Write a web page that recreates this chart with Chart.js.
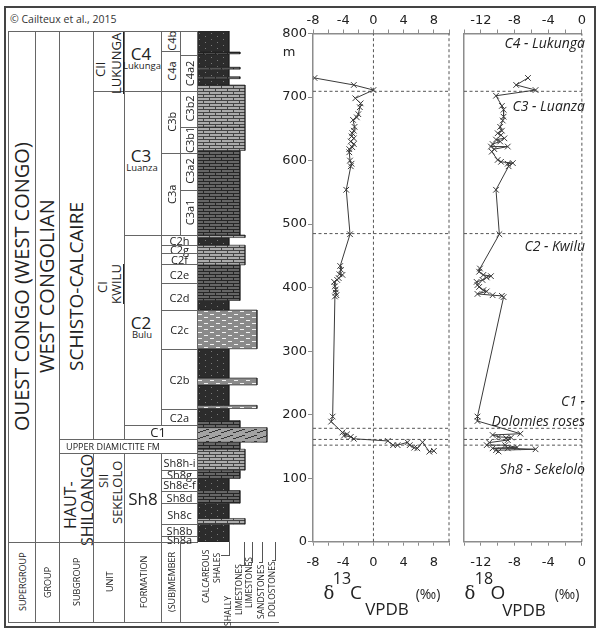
<!DOCTYPE html>
<html>
<head>
<meta charset="utf-8">
<script src="https://cdn.jsdelivr.net/npm/chart.js@4.4.1/dist/chart.umd.min.js"></script>
<style>
html, body { margin: 0; padding: 0; background: #fff; }
body { width: 601px; height: 634px; position: relative; overflow: hidden; font-family: "Open Sans", sans-serif; color: #222; }
canvas { position: absolute; }
.t { position: absolute; white-space: nowrap; line-height: 1; transform: translate(-50%, -50%); }
.vb { position: absolute; display: flex; align-items: center; justify-content: center; writing-mode: vertical-rl; transform: rotate(180deg); white-space: nowrap; line-height: 1; }
.cell { position: absolute; box-sizing: border-box; border: 1px solid #666; }
.lbl { position: absolute; right: 16px; font-style: italic; font-size: 14px; white-space: nowrap; line-height: 1; transform: translateY(-50%); }
.ln { position: absolute; background: #555; }
</style>
</head>
<body>
<div style="position:absolute;left:4px;top:6px;width:592px;height:622px;border:2px solid #444;box-sizing:border-box"></div>
<div class="t" style="left:10px;top:19px;transform:translateY(-50%);font-size:10.5px;color:#333">© Cailteux et al., 2015</div>

<canvas id="litho" width="80" height="511" style="left:197px;top:31px;width:80px;height:511px"></canvas>
<canvas id="c13" width="200" height="568" style="left:258px;top:8px;width:200px;height:568px"></canvas>
<canvas id="o18" width="140" height="568" style="left:455px;top:8px;width:140px;height:568px"></canvas>
<div id="table"></div>

<div class="t" style="left:289px;top:51px;font-size:13px;font-family:'DejaVu Sans'">m</div>

<div class="lbl" style="top:43px">C4 - Lukunga</div>
<div class="lbl" style="top:106px">C3 - Luanza</div>
<div class="lbl" style="top:246px">C2 - Kwilu</div>
<div class="lbl" style="top:401px">C1 -</div>
<div class="lbl" style="top:421px">Dolomies roses</div>
<div class="lbl" style="top:469px">Sh8 - Sekelolo</div>

<div class="t" style="left:329px;top:593px;font-size:18px;font-family:'DejaVu Serif'">δ</div>
<div class="t" style="left:342px;top:578px;font-size:16px">13</div>
<div class="t" style="left:356px;top:592px;font-size:19px">C</div>
<div class="t" style="left:387px;top:608px;font-size:17px">VPDB</div>
<div class="t" style="left:428px;top:594px;font-size:14px">(‰)</div>
<div class="t" style="left:470px;top:593px;font-size:18px;font-family:'DejaVu Serif'">δ</div>
<div class="t" style="left:484px;top:578px;font-size:16px">18</div>
<div class="t" style="left:498px;top:592px;font-size:19px">O</div>
<div class="t" style="left:524px;top:609px;font-size:17px">VPDB</div>
<div class="t" style="left:567px;top:594px;font-size:14px">(‰)</div>

<script>
// isotope profiles (m above base, permil VPDB)
const c13Depth = [730, 719, 711, 698, 690, 684, 673, 668, 664, 653, 647, 643, 638, 635, 630, 626, 621, 618, 613, 600, 595, 591, 554,
  484, 434, 428, 421, 420, 415, 412, 409, 402, 397, 392, 388, 386,
  197, 189, 172, 169, 167, 165, 162, 158.6, 152, 152, 156.5, 152, 148, 147, 156.5, 141.7, 143];
const c13Value = [-7.8, -2.6, 0.0, -2.4, -1.7, -1.8, -2.0, -2.2, -2.7, -2.5, -2.6, -2.8, -2.9, -2.6, -3.0, -2.6, -2.8, -3.2, -3.2, -3.1, -2.9, -3.0, -3.6,
  -3.1, -4.4, -4.3, -4.5, -4.1, -4.6, -4.8, -5.2, -5.1, -5.0, -5.0, -4.9, -5.1,
  -5.4, -5.6, -4.1, -3.5, -3.9, -3.0, -2.6, 1.9, 2.6, 3.2, 4.5, 4.8, 5.4, 5.8, 6.5, 7.4, 8.0];

const o18Depth = [730, 719, 711, 702, 686, 680, 669, 663, 653, 647, 643, 640, 635, 633, 630, 626, 622, 622, 618, 614, 601, 598, 596, 595, 591, 554,
  484, 430, 425, 420, 418, 416, 412, 409, 404, 401, 396, 394, 390, 388, 387, 385,
  197, 190, 170, 168, 165, 164, 163, 160, 156, 152, 152, 148.6, 147, 147, 145.5, 144, 142];
const o18Value = [-6.4, -7.8, -5.5, -10.2, -9.5, -9.3, -9.3, -9.4, -9.7, -9.5, -10.0, -9.6, -9.2, -10.2, -9.7, -10.6, -10.8, -8.8, -10.4, -10.7, -10.0, -9.6, -8.2, -8.8, -8.7, -10.2,
  -9.8, -12.1, -12.2, -11.7, -10.8, -11.3, -11.8, -12.5, -12.4, -12.2, -11.7, -11.3, -12.4, -10.6, -9.5, -9.3,
  -12.4, -12.4, -7.3, -10.6, -9.9, -8.4, -9.0, -8.8, -11.0, -11.3, -9.1, -7.7, -10.6, -8.8, -5.5, -10.2, -9.9];

// dashed unit boundaries across both profiles (m)
const boundaries = [709, 485, 178.5, 161, 152];

// lithological column: bed tops (m, column scale), base of last bed is 0
const bedTop = [804, 771, 768, 747, 744, 732, 729, 719, 653, 616, 483, 479, 467, 436, 380, 365, 304, 258, 247, 215, 210, 191, 180, 157, 146, 113, 100, 81, 61, 37, 28];
const bedRock = ['sh', 'shl', 'sh', 'shl', 'sh', 'shl', 'sh', 'ls', 'ls', 'shl', 'ls', 'sh', 'ls', 'shl', 'sh', 'ss', 'sh', 'ss', 'sh', 'ss', 'sh', 'shl', 'do', 'shl', 'ls', 'shl', 'sh', 'shl', 'sh', 'ls', 'sh'];

// stratigraphic table
const formations = ['C4', 'C3', 'C2', 'C1', 'Sh8'];
const formationSub = ['Lukunga', 'Luanza', 'Bulu', '', ''];
const formationTop = [804, 709, 483, 184, 140];
const formationBase = [709, 483, 184, 162, 0];
const members = ['C4b', 'C4a', '', 'C4a2', 'C3b', 'C3a', 'C3b2', 'C3b1', 'C3a2', 'C3a1',
  'C2h', 'C2g', 'C2f', 'C2e', 'C2d', 'C2c', 'C2b', 'C2a',
  'Sh8h-i', 'Sh8g', 'Sh8e-f', 'Sh8d', 'Sh8c', 'Sh8b', 'Sh8a'];
const memberTop = [804, 773, 804, 766, 709, 612, 709, 653, 612, 554, 483, 467, 455, 437, 407, 365, 304, 210, 140, 113, 100, 81, 61, 28, 9];
const memberBase = [773, 709, 766, 709, 612, 483, 653, 612, 554, 483, 467, 455, 437, 407, 365, 304, 210, 184, 113, 100, 81, 61, 28, 9, 0];
const memberCol = ['a', 'a', 'b', 'b', 'a', 'a', 'b', 'b', 'b', 'b'];   // rest span both
const units = ['CII', 'CI', 'SII'];
const unitNames = ['LUKUNGA', 'KWILU', 'SEKELOLO'];
const unitTop = [804, 709, 140];
const unitBase = [709, 162, 0];
const headers = ['SUPERGROUP', 'GROUP', 'SUBGROUP', 'UNIT', 'FORMATION', '(SUB)MEMBER'];

// ---- patterns for the rock types
function makePattern(bg, ink, draw) {
    const c = document.createElement('canvas');
    c.width = 12; c.height = 6;
    const g = c.getContext('2d');
    g.fillStyle = bg; g.fillRect(0, 0, 12, 6);
    g.fillStyle = ink;
    draw(g);
    return g.createPattern(c, 'repeat');
}
const brick = g => {
    g.fillRect(0, 0, 12, 1); g.fillRect(0, 3, 12, 1);
    g.fillRect(0, 0, 1, 3); g.fillRect(6, 3, 1, 3);
};
const rockStyle = {
    sh: { w: 32, fill: makePattern('#2c2c2c', '#7a7a7a', g => { g.fillRect(2, 2, 1, 1); g.fillRect(8, 5, 1, 1); }) },
    shl: { w: 43, fill: makePattern('#666', '#262626', brick) },
    ls: { w: 48, fill: makePattern('#ababab', '#444', brick) },
    ss: { w: 60, fill: makePattern('#8a8a8a', '#f2f2f2', g => { g.fillRect(1, 1, 4, 1); g.fillRect(7, 4, 4, 1); }) },
    do: { w: 70, fill: makePattern('#a3a3a3', '#333', g => { g.fillRect(0, 5, 3, 1); g.fillRect(3, 4, 3, 1); g.fillRect(6, 3, 3, 1); g.fillRect(9, 2, 3, 1); }) }
};

// ---- lithological column
const lithoCanvas = document.getElementById('litho');
const litho = new Chart(lithoCanvas, {
    type: 'scatter',
    data: {
        datasets: bedTop.map((top, i) => {
            const base = i + 1 < bedTop.length ? bedTop[i + 1] : 0;
            const r = rockStyle[bedRock[i]];
            return {
                data: [{ x: 0, y: top }, { x: r.w, y: top }, { x: r.w, y: base }, { x: 0, y: base }, { x: 0, y: top }],
                showLine: true, fill: 'shape', backgroundColor: r.fill,
                borderColor: '#1e1e1e', borderWidth: 0.6, pointRadius: 0, tension: 0
            };
        })
    },
    options: {
        responsive: false, animation: false, events: [],
        layout: { padding: 0 },
        plugins: { legend: { display: false }, tooltip: { enabled: false } },
        scales: {
            x: { type: 'linear', display: false, min: 0, max: 80 },
            y: { type: 'linear', display: false, min: 0, max: 804 }
        }
    }
});

// ---- table drawn around the column, positioned from the column's y scale
const tbl = document.getElementById('table');
const yAt = m => lithoCanvas.offsetTop + litho.scales.y.getPixelForValue(m);
const colX = [8, 35, 59, 93, 124, 161, 180, 197];
const headBottom = 622;

function cell(x0, x1, y0, y1, css) {
    const d = document.createElement('div');
    d.className = 'cell';
    d.style.cssText = `left:${x0}px;top:${y0}px;width:${x1 - x0 + 1}px;height:${y1 - y0 + 1}px;` + (css || '');
    tbl.appendChild(d);
}
function txt(cx, cy, s, css) {
    const d = document.createElement('div');
    d.className = 't';
    d.textContent = s;
    d.style.cssText = `left:${cx}px;top:${cy}px;` + (css || '');
    tbl.appendChild(d);
}
// text read bottom-to-top, centred in a box
function vtxt(x0, x1, y0, y1, s, css, under) {
    const d = document.createElement('div');
    d.className = 'vb';
    d.style.cssText = `left:${x0}px;top:${y0}px;width:${x1 - x0}px;height:${y1 - y0}px;` + (css || '');
    const sp = document.createElement('span');
    sp.textContent = s;
    if (under) sp.style.borderLeft = '1px solid #222';
    d.appendChild(sp);
    tbl.appendChild(d);
}

const yT = yAt(804), y0m = yAt(0);

// supergroup / group / subgroup
cell(colX[0], colX[1], yT, y0m);
cell(colX[1], colX[2], yT, y0m);
cell(colX[2], colX[3], yT, yAt(162));
cell(colX[2], colX[3], yAt(140), y0m);
vtxt(colX[0], colX[1], yT, y0m, 'OUEST CONGO (WEST CONGO)', 'font-size:20px');
vtxt(colX[1], colX[2], yT, y0m, 'WEST CONGOLIAN', 'font-size:20px');
vtxt(colX[2], colX[3], yT, y0m, 'SCHISTO-CALCAIRE', 'font-size:19px');
vtxt(62, 78, 470, 540, 'HAUT-', 'font-size:16px');
vtxt(79, 95, 455, 545, 'SHILOANGO', 'font-size:16px');

// units
units.forEach((u, i) => {
    cell(colX[3], colX[4], yAt(unitTop[i]), yAt(unitBase[i]));
});
vtxt(93, 107, 50, 88, 'CII', 'font-size:13px');
vtxt(109, 125, 30, 96, 'LUKUNGA', 'font-size:13px', true);
vtxt(95, 109, 260, 314, 'CI', 'font-size:13px');
vtxt(109, 125, 250, 318, 'KWILU', 'font-size:13px', true);
vtxt(96, 110, 460, 502, 'SII', 'font-size:13px');
vtxt(109, 125, 455, 530, 'SEKELOLO', 'font-size:13px');

// upper diamictite
cell(colX[2], colX[7], yAt(162), yAt(140));
txt(113, (yAt(162) + yAt(140)) / 2, 'UPPER DIAMICTITE FM', 'font-size:9px');

// formations
formations.forEach((f, i) => {
    const y0 = yAt(formationTop[i]), y1 = yAt(formationBase[i]);
    const wide = f === 'C1';
    cell(colX[4], wide ? colX[7] : colX[5], y0, y1);
    const cy = (y0 + y1) / 2;
    if (wide) {
        txt(158, cy, f, 'font-size:13px');
    } else if (formationSub[i]) {
        txt(141, cy - 8, f, 'font-size:17px');
        txt(142, cy + 5, formationSub[i], 'font-size:9.5px');
    } else {
        txt(143, cy, f, 'font-size:17px');
    }
});

// members
members.forEach((m, i) => {
    const y0 = yAt(memberTop[i]), y1 = yAt(memberBase[i]);
    const c = memberCol[i];
    const x0 = c === 'b' ? colX[6] : colX[5];
    const x1 = c === 'a' ? colX[6] : colX[7];
    cell(x0, x1, y0, y1);
    if (!m) return;
    if (c) vtxt(x0, x1 + 1, y0, y1, m, 'font-size:11px');
    else txt((x0 + x1) / 2 + 0.5, (y0 + y1) / 2, m, 'font-size:11px');
});

// header row
headers.forEach((h, i) => {
    cell(colX[i], colX[i + 1], y0m, headBottom);
    vtxt(colX[i], colX[i + 1] + 1, y0m, headBottom, h, 'font-size:9px');
});
cell(colX[6], 278, y0m, headBottom, 'border-top:none;border-right:none');
// litho legend (box: x0, x1, top, bottom)
const legend = [[201, 212, 546, 606, 'CALCAREOUS'], [212, 223, 553, 582, 'SHALES'], [223, 234, 602, 621, 'SHALLY'],
    [234, 245, 560, 620, 'LIMESTONES'], [244, 255, 560, 606, 'LIMESTONES'], [256, 267, 562, 621, 'SANDSTONES'], [267, 278, 560, 618, 'DOLOSTONES']];
legend.forEach(([a, b, c, d, s]) => vtxt(a, b, c, d, s, 'font-size:8.5px'));
[[229, 555, 221], [244, 565, 240], [252, 562, 249], [262, 562, 259], [275, 560, 272]].forEach(([x, yb, xl]) => {
    const v = document.createElement('div');
    v.className = 'ln';
    v.style.cssText = `left:${x}px;top:${y0m}px;width:1px;height:${yb - y0m}px`;
    tbl.appendChild(v);
    const hz = document.createElement('div');
    hz.className = 'ln';
    hz.style.cssText = `left:${xl}px;top:${yb}px;width:${x - xl + 1}px;height:1px`;
    tbl.appendChild(hz);
});

// ---- isotope profiles
const axisFont = { family: 'DejaVu Sans', size: 13 };
const grey = '#8c8c8c';

function guides(xMin, xMax, verticals) {
    const sets = boundaries.map(m => ({ data: [{ x: xMin, y: m }, { x: xMax, y: m }] }));
    verticals.forEach(v => sets.push({ data: [{ x: v, y: 0 }, { x: v, y: 800 }] }));
    return sets.map(s => Object.assign(s, {
        showLine: true, borderColor: '#555', borderWidth: 1, borderDash: [3, 2.5],
        pointRadius: 0, clip: 4
    }));
}

function xAxis(pos, min, max, h, pad) {
    return {
        type: 'linear', position: pos, min: min, max: max,
        afterFit: s => { s.height = h; },
        ticks: {
            stepSize: 2, autoSkip: false, maxRotation: 0, padding: pad,
            color: '#222', font: axisFont,
            callback: v => (v % 4 === 0 ? String(v) : '')
        },
        grid: { drawOnChartArea: false, tickLength: 4, color: grey },
        border: { color: grey, width: 1.5 }
    };
}

function profile(canvas, depth, value, xMin, xMax, verticals, yWidth, showY, rightPad) {
    const series = {
        data: depth.map((m, i) => ({ x: value[i], y: m })),
        showLine: true, borderColor: '#3a3a3a', borderWidth: 1, tension: 0,
        pointStyle: 'crossRot', pointRadius: 4, pointBorderWidth: 1,
        pointBorderColor: '#3a3a3a', pointBackgroundColor: 'rgba(0,0,0,0)'
    };
    return new Chart(canvas, {
        type: 'scatter',
        data: { datasets: [series, ...guides(xMin, xMax, verticals)] },
        options: {
            responsive: false, animation: false, events: [],
            layout: { padding: { right: rightPad, left: 0, top: 0, bottom: 0 } },
            plugins: { legend: { display: false }, tooltip: { enabled: false } },
            scales: {
                x: xAxis('bottom', xMin, xMax, 34.3, 9),
                x2: xAxis('top', xMin, xMax, 25.5, 1),
                y: {
                    type: 'linear', min: 0, max: 800,
                    afterFit: s => { s.width = yWidth; },
                    ticks: { display: showY, stepSize: 100, padding: 1, color: '#222', font: axisFont },
                    grid: { drawOnChartArea: false, drawTicks: showY, tickLength: 5, color: grey },
                    border: { color: grey, width: 1.5 }
                }
            }
        }
    });
}

profile(document.getElementById('c13'), c13Depth, c13Value, -8, 10, [0, 10], 55, true, 5);
profile(document.getElementById('o18'), o18Depth, o18Value, -14, 0, [0], 4, false, 8);
</script>
</body>
</html>
